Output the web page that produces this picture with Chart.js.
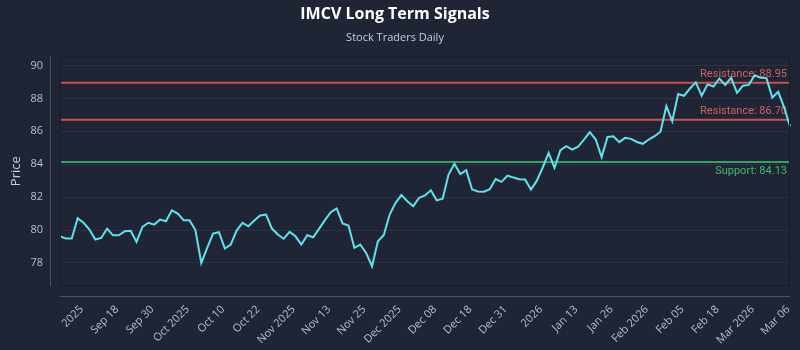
<!DOCTYPE html>
<html>
<head>
<meta charset="utf-8">
<script src="https://cdn.jsdelivr.net/npm/chart.js@4/dist/chart.umd.min.js"></script>
<style>
  html, body { margin: 0; padding: 0; background: #1f2535; }
  #wrap { width: 800px; height: 350px; }
</style>
</head>
<body>
<div id="wrap"><canvas id="chart" width="800" height="350"></canvas></div>
<script>
// chart text
const chartTitle = "IMCV Long Term Signals";
const chartSubtitle = "Stock Traders Daily";
const yTitle = "Price";

// closing prices, one per session
const prices = [
  79.62, 79.48, 79.48, 80.72, 80.44, 80.03, 79.42, 79.52, 80.09, 79.68,
  79.68, 79.93, 79.95, 79.28, 80.19, 80.44, 80.33, 80.64, 80.53, 81.20,
  81.00, 80.60, 80.60, 80.00, 78.00, 78.92, 79.79, 79.87, 78.88, 79.12,
  79.97, 80.44, 80.23, 80.58, 80.88, 80.94, 80.09, 79.73, 79.47, 79.89,
  79.62, 79.12, 79.68, 79.56, 80.07, 80.60, 81.08, 81.31, 80.40, 80.27,
  78.92, 79.12, 78.61, 77.80, 79.32, 79.70, 80.94, 81.65, 82.12, 81.75,
  81.45, 81.96, 82.10, 82.42, 81.80, 81.90, 83.37, 84.03, 83.40, 83.64,
  82.46, 82.34, 82.33, 82.48, 83.10, 82.93, 83.31, 83.19, 83.09, 83.07,
  82.46, 83.00, 83.80, 84.69, 83.78, 84.85, 85.10, 84.89, 85.06, 85.50,
  85.95, 85.50, 84.43, 85.66, 85.70, 85.34, 85.60, 85.54, 85.35, 85.24,
  85.50, 85.70, 85.97, 87.53, 86.61, 88.27, 88.16, 88.60, 88.97, 88.16,
  88.85, 88.72, 89.21, 88.82, 89.25, 88.34, 88.77, 88.82, 89.40, 89.25,
  89.23, 88.05, 88.40, 87.45, 86.31
];

// x tick labels, shown every 6th session starting at session 3
const tickLabels = [
  "2025", "Sep 18", "Sep 30", "Oct 2025", "Oct 10", "Oct 22", "Nov 2025",
  "Nov 13", "Nov 25", "Dec 2025", "Dec 08", "Dec 18", "Dec 31", "2026",
  "Jan 13", "Jan 26", "Feb 2026", "Feb 05", "Feb 18", "Mar 2026", "Mar 06"
];
const tickStart = 3;
const tickEvery = 6;

// y ticks
const yTicks = [78, 80, 82, 84, 86, 88, 90];
const yMin = 76.6;
const yMax = 90.55;

// support / resistance levels
const levelNames = ["Resistance", "Resistance", "Support"];
const levelValues = [88.95, 86.70, 84.13];

// colours
const bgColor = "#1f2535";
const textColor = "#b9bfcc";
const gridColor = "#2b3244";
const lineColor = "#5ee3ec";
const resColor = "#c8524d";
const resText = "#d2625e";
const supColor = "#2fa35f";
const supText = "#3cbf6d";

const FONT = "'Open Sans', 'DejaVu Sans', sans-serif";

/* one label per session, blank except at the tick positions */
const labels = prices.map(function(p, i) {
  if (i >= tickStart && (i - tickStart) % tickEvery === 0) {
    return tickLabels[(i - tickStart) / tickEvery] || "";
  }
  return "";
});

/* background, plot frame and the offset axis lines */
const framePlugin = {
  id: "frame",
  beforeDraw(chart) {
    const ctx = chart.ctx;
    ctx.save();
    ctx.fillStyle = bgColor;
    ctx.fillRect(0, 0, chart.width, chart.height);
    ctx.restore();
  },
  afterDraw(chart) {
    const ctx = chart.ctx;
    const a = chart.chartArea;
    ctx.save();
    ctx.strokeStyle = "#161b27";
    ctx.lineWidth = 1;
    ctx.strokeRect(a.left + 0.5, a.top + 0.5, a.right - a.left - 1, a.bottom - a.top - 1);
    ctx.strokeStyle = "#4b5262";
    ctx.beginPath();
    ctx.moveTo(a.left - 9.5, a.top);
    ctx.lineTo(a.left - 9.5, a.bottom);
    ctx.moveTo(a.left, a.bottom + 10.5);
    ctx.lineTo(a.right, a.bottom + 10.5);
    ctx.stroke();
    ctx.restore();
  }
};

/* horizontal support / resistance lines with their labels */
const levelPlugin = {
  id: "levels",
  beforeDatasetsDraw(chart) {
    const ctx = chart.ctx;
    const a = chart.chartArea;
    const y = chart.scales.y;
    ctx.save();
    ctx.font = "11px Roboto, " + FONT;
    ctx.textAlign = "right";
    for (let i = 0; i < levelValues.length; i++) {
      const py = y.getPixelForValue(levelValues[i]);
      const isSup = levelNames[i] === "Support";
      ctx.strokeStyle = isSup ? supColor : resColor;
      ctx.lineWidth = 2;
      ctx.beginPath();
      ctx.moveTo(a.left, py);
      ctx.lineTo(a.right, py);
      ctx.stroke();
      ctx.fillStyle = isSup ? supText : resText;
      const txt = levelNames[i] + ": " + levelValues[i].toFixed(2);
      if (isSup) {
        ctx.textBaseline = "top";
        ctx.fillText(txt, a.right - 3, py + 4);
      } else {
        ctx.textBaseline = "bottom";
        ctx.fillText(txt, a.right - 3, py - 3);
      }
    }
    ctx.restore();
  }
};

const config = {
  type: "line",
  data: {
    labels: labels,
    datasets: [{
      data: prices,
      borderColor: lineColor,
      borderWidth: 2,
      pointRadius: 0,
      tension: 0,
      fill: false
    }]
  },
  plugins: [framePlugin, levelPlugin],
  options: {
    responsive: false,
    animation: false,
    layout: { padding: { left: 0, right: 10, top: 0, bottom: 0 } },
    plugins: {
      legend: { display: false },
      tooltip: { enabled: false },
      title: {
        display: true,
        text: chartTitle,
        color: "#ffffff",
        font: { family: FONT, size: 16, weight: "bold" },
        padding: { top: 5, bottom: 3 }
      },
      subtitle: {
        display: true,
        text: chartSubtitle,
        color: "#c9cdd6",
        font: { family: FONT, size: 11 },
        padding: { top: 4, bottom: 12 }
      }
    },
    scales: {
      x: {
        grid: { display: false, drawTicks: false },
        border: { display: false },
        afterFit(scale) {
          scale.height = 64;
          scale.paddingLeft = 0;
          scale.paddingRight = 0;
        },
        ticks: {
          autoSkip: false,
          maxRotation: 45,
          minRotation: 45,
          padding: 17,
          labelOffset: 4,
          color: textColor,
          font: { family: FONT, size: 11 }
        }
      },
      y: {
        min: yMin,
        max: yMax,
        afterFit(scale) { scale.width = 60; },
        afterBuildTicks(scale) {
          scale.ticks = yTicks.map(function(v) { return { value: v }; });
        },
        grid: { color: gridColor, drawTicks: false },
        border: { display: false },
        title: {
          display: true,
          text: yTitle,
          color: "#c9cdd6",
          font: { family: FONT, size: 13 },
          padding: { top: 8, bottom: 0 }
        },
        ticks: {
          padding: 17,
          color: textColor,
          font: { family: FONT, size: 11 }
        }
      }
    }
  }
};

const myChart = new Chart(document.getElementById("chart"), config);
</script>
</body>
</html>
